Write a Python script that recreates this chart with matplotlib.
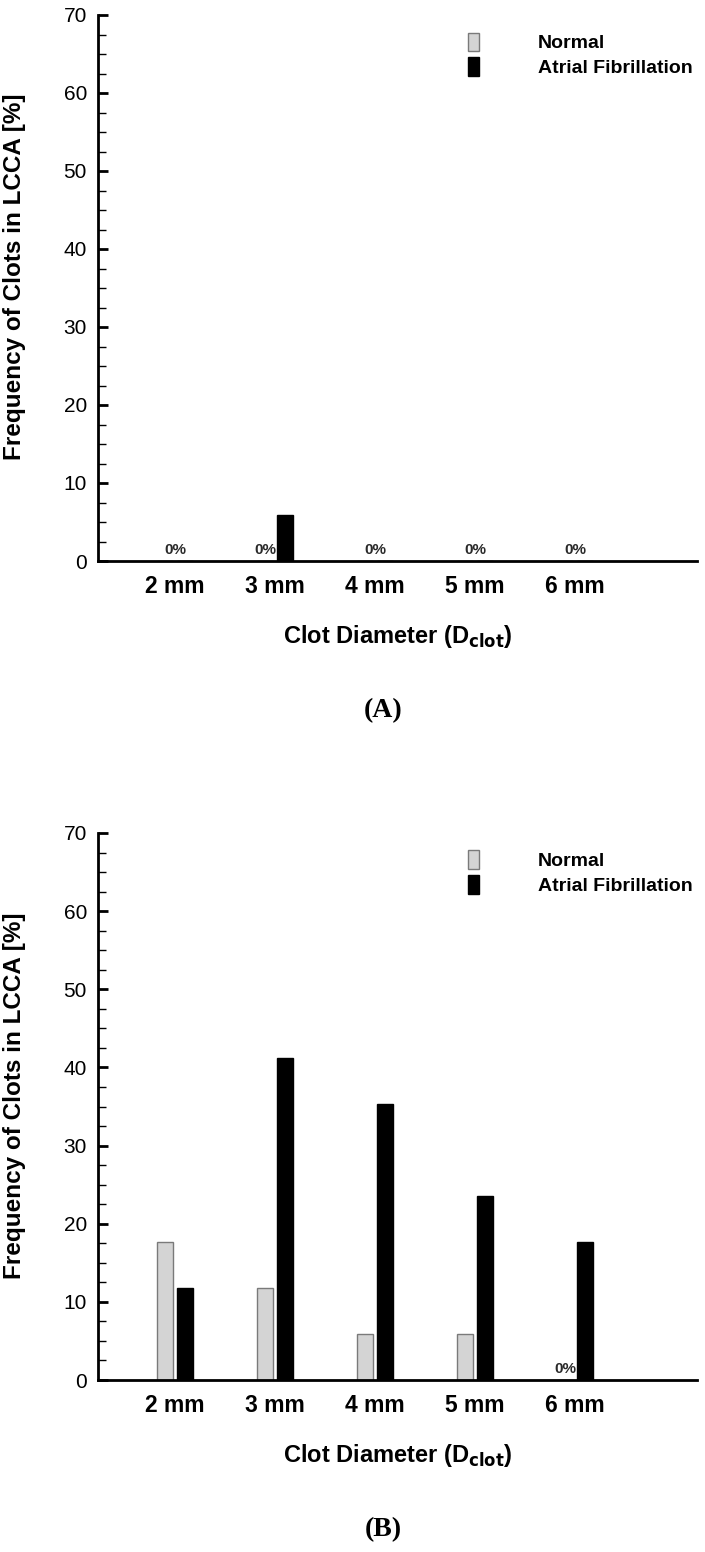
import numpy as np
import matplotlib
matplotlib.use('Agg')
import matplotlib.pyplot as plt
from matplotlib.patches import Patch
from matplotlib.ticker import MultipleLocator

plt.rcParams['font.family'] = ['Liberation Sans', 'DejaVu Sans']

# data (percent of clots, 17 clots per case)
diameters = ['2 mm', '3 mm', '4 mm', '5 mm', '6 mm']
normal_a = [0.0, 0.0, 0.0, 0.0, 0.0]
afib_a = [0.0, 5.88, 0.0, 0.0, 0.0]
normal_b = [17.65, 11.76, 5.88, 5.88, 0.0]
afib_b = [11.76, 41.18, 35.29, 23.53, 17.65]
panel_tags = ['(A)', '(B)']

W, H = 705, 1552
fig = plt.figure(figsize=(W / 100, H / 100), dpi=100)

# axes boxes in pixels: left, top, right, bottom
boxes = [(98, 15, 697, 561), (98, 833, 697, 1380)]
x = np.arange(1, len(diameters) + 1)
bw = 0.16
off = 0.10

for (l, t, r, b), norm, af, tag in zip(boxes, [normal_a, normal_b], [afib_a, afib_b], panel_tags):
    ax = fig.add_axes([l / W, 1 - b / H, (r - l) / W, (b - t) / H])
    ax.bar(x - off, norm, bw, color='#d4d4d4', edgecolor='#7a7a7a', linewidth=1.0, zorder=2)
    ax.bar(x + off, af, bw, color='black', edgecolor='black', linewidth=1.0, zorder=2)

    # 0% labels
    for i in range(len(x)):
        lx = None
        if norm[i] == 0 and af[i] == 0:
            lx = x[i]
        elif norm[i] == 0:
            lx = x[i] - off
        elif af[i] == 0:
            lx = x[i] + off
        if lx is not None:
            ax.text(lx, 0.45, '0%', ha='center', va='bottom', fontsize=11,
                    fontweight='bold', color='#2a2a2a')

    ax.set_xlim(0.23, 6.22)
    ax.set_ylim(0, 70)
    ax.yaxis.set_major_locator(MultipleLocator(10))
    ax.yaxis.set_minor_locator(MultipleLocator(2.5))
    ax.tick_params(axis='y', which='major', direction='in', length=7, width=2, labelsize=15, pad=8)
    ax.tick_params(axis='y', which='minor', direction='in', length=6, width=1)
    ax.set_xticks(x)
    ax.set_xticklabels(diameters, fontsize=16.5, fontweight='bold')
    ax.tick_params(axis='x', length=0, pad=10)

    for s in ['top', 'right']:
        ax.spines[s].set_visible(False)
    for s in ['left', 'bottom']:
        ax.spines[s].set_linewidth(2)

    ax.set_ylabel('Frequency of Clots in LCCA [%]', fontsize=17.5, fontweight='bold')
    ax.yaxis.set_label_coords(-(98 - 26) / (r - l), 0.52)
    ax.set_xlabel(r'Clot Diameter (D$_{\mathbf{clot}}$)', fontsize=17, fontweight='bold', labelpad=18)

    handles = [Patch(facecolor='#d4d4d4', edgecolor='#7a7a7a'),
               Patch(facecolor='black', edgecolor='black')]
    ax.legend(handles, ['Normal', 'Atrial Fibrillation'], loc='upper left',
              bbox_to_anchor=((450 - l) / (r - l), 1.0),
              frameon=False, handlelength=0.6, handleheight=1.1,
              handletextpad=3.0, labelspacing=0.25, prop={'weight': 'bold', 'size': 14})

    fig.text(383 / W, 1 - (b + 150) / H, tag, ha='center', va='center',
             fontsize=20, fontweight='bold', family='Liberation Serif')

fig.savefig('out.png', dpi=100, facecolor='white')
